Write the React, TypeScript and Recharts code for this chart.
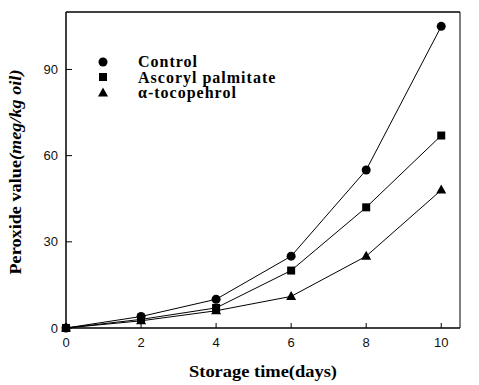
import React from "react";
import {
  LineChart,
  Line,
  XAxis,
  YAxis,
  Legend,
  ReferenceLine,
} from "recharts";

const days = [0, 2, 4, 6, 8, 10];
const control = [0, 4, 10, 25, 55, 105];
const ascorylPalmitate = [0, 3, 7, 20, 42, 67];
const tocopherol = [0, 2.5, 6, 11, 25, 48];

const xTicks = [0, 2, 4, 6, 8, 10];
const yTicks = [0, 30, 60, 90];

const data = days.map((d, i) => ({
  day: d,
  control: control[i],
  ascoryl: ascorylPalmitate[i],
  toco: tocopherol[i],
}));

const serif = "'Times New Roman', 'Liberation Serif', serif";
const sans = "Arial, 'Liberation Sans', sans-serif";

const Circle = (props: any) => {
  const { cx, cy } = props;
  if (cx == null || cy == null) return null;
  return <circle cx={cx} cy={cy} r={4.5} fill="#000" />;
};

const Square = (props: any) => {
  const { cx, cy } = props;
  if (cx == null || cy == null) return null;
  return <rect x={cx - 4} y={cy - 4} width={8} height={8} fill="#000" />;
};

const Triangle = (props: any) => {
  const { cx, cy } = props;
  if (cx == null || cy == null) return null;
  return (
    <polygon
      points={`${cx},${cy - 5.5} ${cx - 5},${cy + 3.5} ${cx + 5},${cy + 3.5}`}
      fill="#000"
    />
  );
};

const legendItems = [
  { name: "Control", shape: "circle" },
  { name: "Ascoryl palmitate", shape: "square" },
  { name: "α-tocopehrol", shape: "triangle" },
];

const LegendBox = () => (
  <div>
    {legendItems.map((it) => (
      <div
        key={it.name}
        style={{ display: "flex", alignItems: "center", height: 15.5 }}
      >
        <svg width={14} height={14} style={{ marginRight: 28 }}>
          {it.shape === "circle" && <circle cx={7} cy={7} r={4.5} fill="#000" />}
          {it.shape === "square" && <rect x={3} y={3} width={8} height={8} fill="#000" />}
          {it.shape === "triangle" && (
            <polygon points="7,1.5 2,10.5 12,10.5" fill="#000" />
          )}
        </svg>
        <span
          style={{
            fontFamily: serif,
            fontWeight: 700,
            fontSize: 16,
            letterSpacing: 1,
            lineHeight: "15px",
            color: "#000",
          }}
        >
          {it.name}
        </span>
      </div>
    ))}
  </div>
);

const YLabel = (props: any) => {
  const { viewBox } = props;
  const cx = 15;
  const cy = viewBox.y + viewBox.height / 2 + 2;
  return (
    <text
      x={cx}
      y={cy}
      transform={`rotate(-90, ${cx}, ${cy})`}
      textAnchor="middle"
      dominantBaseline="central"
      fontFamily={serif}
      fontWeight="bold"
      fontSize={16}
      textLength={205}
      lengthAdjust="spacingAndGlyphs"
      fill="#000"
    >
      <tspan>Peroxide value</tspan>
      <tspan fontStyle="italic">(meg/kg oil)</tspan>
    </text>
  );
};

const XLabel = (props: any) => {
  const { viewBox } = props;
  const cx = viewBox.x + viewBox.width / 2;
  return (
    <text
      x={cx}
      y={377}
      textAnchor="middle"
      fontFamily={serif}
      fontWeight="bold"
      fontSize={16}
      textLength={148}
      lengthAdjust="spacingAndGlyphs"
      fill="#000"
    >
      Storage time(days)
    </text>
  );
};

export default function App() {
  return (
    <div style={{ position: "absolute", left: 0, top: 0, background: "#fff" }}>
      <LineChart
        width={479}
        height={385}
        data={data}
        margin={{ top: 12, right: 19, bottom: 0, left: 0 }}
      >
        <XAxis
          dataKey="day"
          type="number"
          domain={[0, 10.5]}
          ticks={xTicks}
          height={57}
          tickSize={-5}
          tickMargin={15}
          axisLine={{ stroke: "#000", strokeWidth: 1.5 }}
          tickLine={{ stroke: "#000" }}
          tick={{ fill: "#111", fontFamily: sans, fontSize: 13 }}
          label={<XLabel />}
        />
        <YAxis
          type="number"
          domain={[0, 110]}
          ticks={yTicks}
          width={66}
          tickSize={-6}
          tickMargin={14}
          axisLine={{ stroke: "#000", strokeWidth: 1.5 }}
          tickLine={{ stroke: "#000" }}
          tick={{ fill: "#111", fontFamily: sans, fontSize: 13 }}
          label={<YLabel />}
        />
        <ReferenceLine y={110} stroke="#000" strokeWidth={1.5} />
        <ReferenceLine x={10.5} stroke="#000" strokeWidth={1} />
        <Legend
          content={<LegendBox />}
          layout="horizontal"
          verticalAlign="middle"
          align="center"
          wrapperStyle={{ position: "absolute", left: 96, top: 54, width: 230 }}
        />
        <Line
          dataKey="control"
          stroke="#000"
          strokeWidth={1}
          dot={<Circle />}
          isAnimationActive={false}
        />
        <Line
          dataKey="ascoryl"
          stroke="#000"
          strokeWidth={1}
          dot={<Square />}
          isAnimationActive={false}
        />
        <Line
          dataKey="toco"
          stroke="#000"
          strokeWidth={1}
          dot={<Triangle />}
          isAnimationActive={false}
        />
      </LineChart>
    </div>
  );
}
